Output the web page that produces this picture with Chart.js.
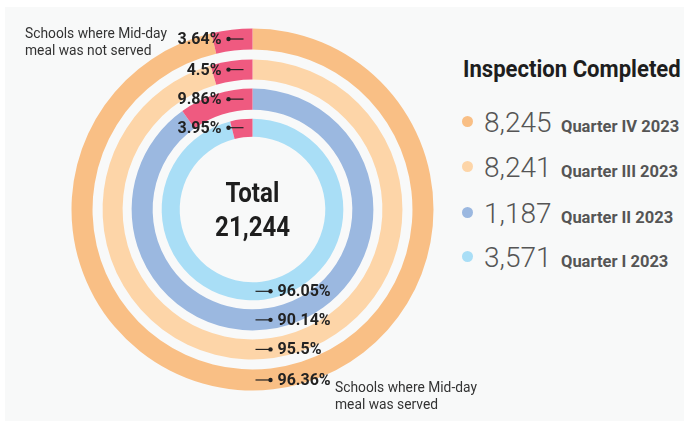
<!DOCTYPE html>
<html>
<head>
<meta charset="utf-8">
<script src="https://cdn.jsdelivr.net/npm/chart.js@4/dist/chart.umd.min.js"></script>
<style>
  html, body { margin: 0; padding: 0; background: #ffffff; }
  body { width: 684px; height: 423px; position: relative; overflow: hidden; font-family: Roboto, "Open Sans", sans-serif; }
  .card { position: absolute; left: 5px; top: 7px; width: 679px; height: 414px; background: #f8f9f9; }
  .chart-box { position: absolute; left: 71px; top: 28px; width: 363px; height: 363px; }
  .caption { position: absolute; font-size: 13.8px; line-height: 17px; color: #333; white-space: nowrap; }
  .center { position: absolute; left: 152px; width: 201px; text-align: center; font-weight: 700; color: #1e1e1e; font-size: 28px; line-height: 34px; }
  .center span { display: inline-block; transform: scaleX(0.86); }
  .legend-title { position: absolute; left: 463px; top: 56px; font-size: 23px; font-weight: 700; color: #1e1e1e; white-space: nowrap; transform: scaleX(0.96); transform-origin: left center; }
  .legend-row { position: absolute; left: 462px; height: 34px; white-space: nowrap; }
  .legend-row .dot { position: absolute; left: 0; top: 10px; width: 11px; height: 11px; border-radius: 50%; }
  .legend-row .num { position: absolute; left: 22px; top: 0; font-size: 28px; font-weight: 300; color: #555; line-height: 34px; }
  .legend-row .lab { position: absolute; top: 11px; font-size: 16.5px; font-weight: 700; color: #555; line-height: 20px; }
</style>
</head>
<body>
<div class="card"></div>
<div class="chart-box"><canvas id="rings"></canvas></div>

<div class="caption" style="left:25px; top:25px;">Schools where Mid-day<br>meal was not served</div>
<div class="caption" style="left:335px; top:379px;">Schools where Mid-day<br>meal was served</div>

<div class="center" style="top:176px;"><span>Total</span></div>
<div class="center" style="top:210px;"><span id="totalText"></span></div>

<div class="legend-title">Inspection Completed</div>
<div id="legend"></div>

<script>
// Rings from outside in: Quarter IV, III, II, I
const quarters = ["Quarter IV 2023", "Quarter III 2023", "Quarter II 2023", "Quarter I 2023"];
const inspections = [8245, 8241, 1187, 3571];
const servedPct = [96.36, 95.5, 90.14, 96.05];
const notServedPct = [3.64, 4.5, 9.86, 3.95];
const ringColors = ["#f9bf85", "#fdd5a8", "#9bb8e0", "#a9def6"];
const NOT_SERVED_COLOR = "#ef5a80";

// ring thickness vs gap, in rough pixel terms
const RING_WEIGHTS = [21, 20, 21, 18];
const GAP_WEIGHTS = [10, 9, 9];

const fmt = (n) => n.toLocaleString("en-US");
const total = inspections.reduce((a, b) => a + b, 0);
document.getElementById("totalText").textContent = fmt(total);

// legend on the right
const legendBox = document.getElementById("legend");
const rowTops = [106, 151, 197, 241];
quarters.forEach((q, i) => {
  const row = document.createElement("div");
  row.className = "legend-row";
  row.style.top = rowTops[i] + "px";
  const dot = document.createElement("span");
  dot.className = "dot";
  dot.style.background = ringColors[i];
  const num = document.createElement("span");
  num.className = "num";
  num.textContent = fmt(inspections[i]);
  const lab = document.createElement("span");
  lab.className = "lab";
  lab.textContent = q;
  row.appendChild(dot);
  row.appendChild(num);
  row.appendChild(lab);
  legendBox.appendChild(row);
  lab.style.left = (22 + num.offsetWidth + 9) + "px";
});

// datasets: real rings separated by transparent spacer rings
const datasets = [];
quarters.forEach((q, i) => {
  datasets.push({
    label: q,
    data: [servedPct[i], notServedPct[i]],
    backgroundColor: [ringColors[i], NOT_SERVED_COLOR],
    weight: RING_WEIGHTS[i],
    borderWidth: 0,
    isRing: true
  });
  if (i < GAP_WEIGHTS.length) {
    datasets.push({ data: [1], backgroundColor: ["rgba(0,0,0,0)"], weight: GAP_WEIGHTS[i], borderWidth: 0, isRing: false });
  }
});

// percentage labels with small leader lines
const leaderLabels = {
  id: "leaderLabels",
  afterDatasetsDraw(chart) {
    const ctx = chart.ctx;
    ctx.save();
    ctx.font = "bold 16px Roboto";
    ctx.fillStyle = "#222";
    ctx.strokeStyle = "#222";
    ctx.lineWidth = 1.2;
    ctx.textBaseline = "middle";
    chart.data.datasets.forEach((ds, di) => {
      if (!ds.isRing) return;
      const arc = chart.getDatasetMeta(di).data[1];
      const cx = arc.x, cy = arc.y;
      const r = (arc.innerRadius + arc.outerRadius) / 2;
      const ringIdx = quarters.indexOf(ds.label);

      // top: not served
      let y = cy - r;
      ctx.beginPath();
      ctx.moveTo(cx - 24, y);
      ctx.lineTo(cx - 9, y);
      ctx.stroke();
      ctx.beginPath();
      ctx.arc(cx - 24, y, 2.2, 0, Math.PI * 2);
      ctx.fill();
      ctx.textAlign = "right";
      ctx.fillText(notServedPct[ringIdx] + "%", cx - 31, y + 1);

      // bottom: served
      y = cy + r;
      ctx.beginPath();
      ctx.moveTo(cx + 3, y);
      ctx.lineTo(cx + 18, y);
      ctx.stroke();
      ctx.beginPath();
      ctx.arc(cx + 18, y, 2.2, 0, Math.PI * 2);
      ctx.fill();
      ctx.textAlign = "left";
      ctx.fillText(servedPct[ringIdx] + "%", cx + 25, y + 1);
    });
    ctx.restore();
  }
};

new Chart(document.getElementById("rings"), {
  type: "doughnut",
  data: { labels: ["Served", "Not served"], datasets },
  options: {
    responsive: true,
    maintainAspectRatio: false,
    animation: false,
    radius: 181,
    cutout: 73,
    events: [],
    layout: { padding: 0 },
    plugins: { legend: { display: false }, tooltip: { enabled: false } }
  },
  plugins: [leaderLabels]
});
</script>
</body>
</html>
